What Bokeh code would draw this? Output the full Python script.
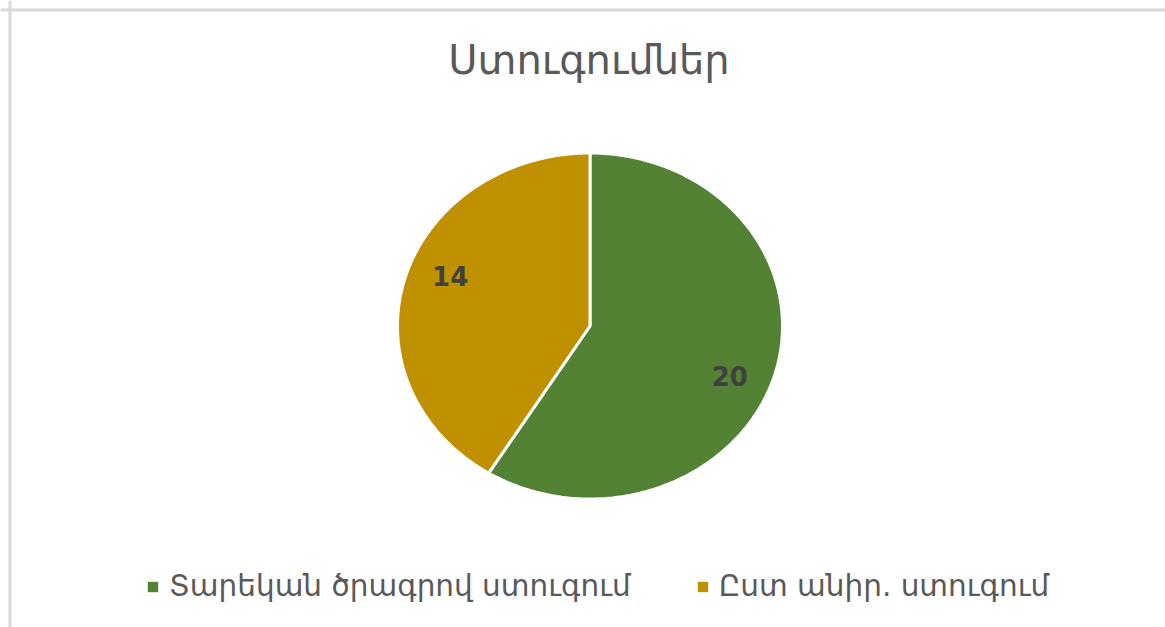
import numpy as np
from bokeh.plotting import figure
from bokeh.models import Range1d, Span, Legend, LegendItem, Label, ColumnDataSource
from bokeh.embed import file_html
from bokeh.resources import INLINE
from bokeh.core.properties import value

# ---- data ----
title_text = "Ստուգումներ"
categories = ["Տարեկան ծրագրով ստուգում", "Ըստ անիր. ստուգում"]
values = [20, 14]
colors = ["#548235", "#BF9000"]

# ---- layout ----
W, H = 1165, 627
FONT = "DejaVu Sans"
p = figure(width=W, height=H, x_range=Range1d(0, W), y_range=Range1d(H, 0),
           output_backend="svg", toolbar_location=None, min_border=0,
           x_axis_type=None, y_axis_type=None)
p.grid.visible = False
p.outline_line_color = None
p.background_fill_color = "white"
p.border_fill_color = "white"

# chart-area border (left and top visible)
p.add_layout(Span(location=9.5, dimension="height", line_color="#d9d9d9", line_width=3))
p.add_layout(Span(location=9.5, dimension="width", line_color="#d9d9d9", line_width=3))

cx, cy, rx, ry = 589.5, 325.5, 192.5, 173.0
total = float(sum(values))
start = 0.0
legend_renderers = []
lab_x, lab_y, lab_t = [], [], []
for v, c in zip(values, colors):
    frac = v / total
    a0, a1 = start * 2 * np.pi, (start + frac) * 2 * np.pi
    t = np.linspace(a0, a1, 300)
    xs = np.concatenate([[cx], cx + rx * np.sin(t)])
    ys = np.concatenate([[cy], cy - ry * np.cos(t)])
    # fill-only copy (used for the legend swatch), hidden under the outlined slice
    legend_renderers.append(p.patch(xs, ys, fill_color=c, line_color=None))
    p.patch(xs, ys, fill_color=c, line_color="white", line_width=3)
    mid = (a0 + a1) / 2
    lab_x.append(cx + 0.755 * rx * np.sin(mid))
    lab_y.append(cy - 1.05 * ry * np.cos(mid))
    lab_t.append(str(v))
    start += frac

src = ColumnDataSource(dict(x=lab_x, y=lab_y, t=lab_t))
p.text("x", "y", text="t", source=src, text_align="center", text_baseline="middle",
       text_font=value(FONT), text_font_size="26px", text_font_style="bold",
       text_color="#404040")

p.add_layout(Label(x=588.5, y=59, text=title_text, text_align="center",
                   text_baseline="alphabetic", text_font=FONT, text_font_size="40px",
                   text_color="#595959"))

legend = Legend(items=[LegendItem(label=cat, renderers=[r]) for cat, r in zip(categories, legend_renderers)],
                orientation="horizontal", location=(146, 24), padding=0, margin=0,
                spacing=65, label_standoff=10, glyph_width=13, glyph_height=13,
                label_text_font=FONT, label_text_font_size="29.5px",
                label_text_color="#595959", border_line_color=None,
                background_fill_alpha=0)
p.add_layout(legend, "center")

open("out.html", "w").write(file_html(p, INLINE))
